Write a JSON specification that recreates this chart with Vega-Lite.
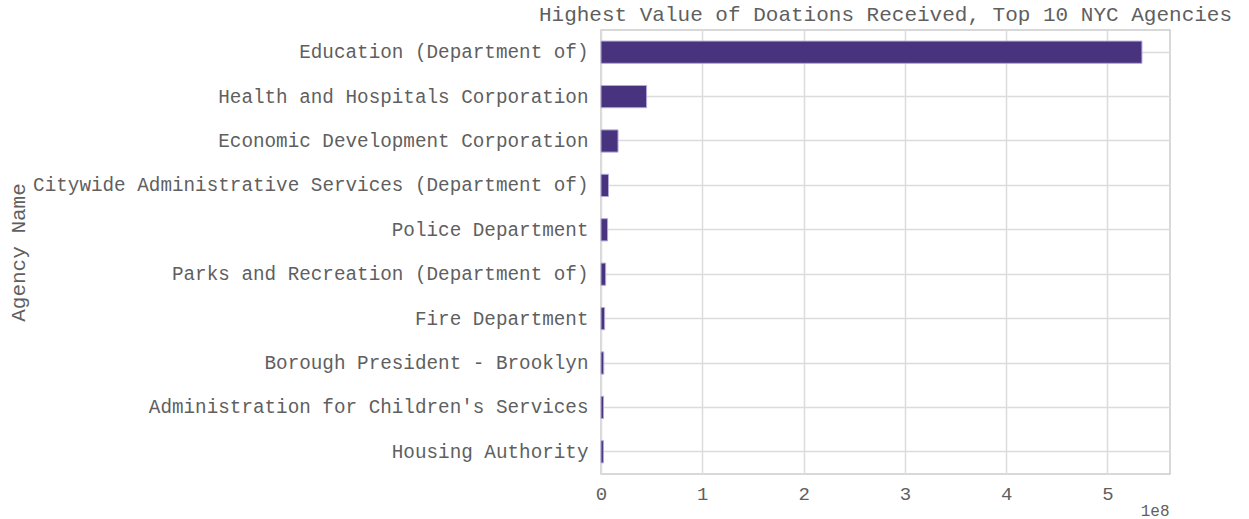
{
  "$schema": "https://vega.github.io/schema/vega-lite/v6.json",
  "width": 569,
  "height": 444,
  "autosize": {"type": "none"},
  "padding": {"left": 601, "top": 30, "right": 79, "bottom": 45},
  "background": "white",
  "title": {
    "text": "Highest Value of Doations Received, Top 10 NYC Agencies",
    "font": "Liberation Mono",
    "fontSize": 21,
    "fontWeight": "normal",
    "color": "#5f5f5f",
    "anchor": "middle",
    "offset": 5
  },
  "data": {
    "values": [
      {"agency": "Education (Department of)", "value": 534000000},
      {"agency": "Health and Hospitals Corporation", "value": 45000000},
      {"agency": "Economic Development Corporation", "value": 16800000},
      {"agency": "Citywide Administrative Services (Department of)", "value": 7400000},
      {"agency": "Police Department", "value": 6500000},
      {"agency": "Parks and Recreation (Department of)", "value": 4600000},
      {"agency": "Fire Department", "value": 3600000},
      {"agency": "Borough President - Brooklyn", "value": 2700000},
      {"agency": "Administration for Children's Services", "value": 2500000},
      {"agency": "Housing Authority", "value": 2400000}
    ]
  },
  "mark": {"type": "bar", "color": "#47337e", "stroke": "#b3a7d8", "strokeWidth": 1},
  "encoding": {
    "y": {
      "field": "agency",
      "type": "nominal",
      "sort": null,
      "scale": {"paddingInner": 0.5, "paddingOuter": 0.25},
      "axis": {
        "title": "Agency Name",
        "ticks": false,
        "domain": false,
        "bandPosition": 0.5,
        "grid": true,
        "gridColor": "#dcdcdc",
        "gridWidth": 1.5,
        "labelFont": "Liberation Mono",
        "labelFontSize": 19.3,
        "labelColor": "#5f5f5f",
        "labelPadding": 13,
        "labelLimit": 700,
        "titleFont": "Liberation Mono",
        "titleFontSize": 21,
        "titleFontWeight": "normal",
        "titleColor": "#5f5f5f",
        "titleX": -583,
        "titleBaseline": "middle",
        "titleAlign": "center"
      }
    },
    "x": {
      "field": "value",
      "type": "quantitative",
      "scale": {"domain": [0, 561700000], "nice": false, "zero": true},
      "axis": {
        "values": [0, 100000000, 200000000, 300000000, 400000000, 500000000],
        "labelExpr": "format(datum.value / 100000000, 'd')",
        "labelFlush": false,
        "title": "1e8",
        "ticks": false,
        "domain": false,
        "grid": true,
        "gridColor": "#dcdcdc",
        "gridWidth": 1.5,
        "labelFont": "Liberation Mono",
        "labelFontSize": 19,
        "labelColor": "#5f5f5f",
        "labelPadding": 10,
        "titleFont": "Liberation Mono",
        "titleFontSize": 16,
        "titleFontWeight": "normal",
        "titleColor": "#5f5f5f",
        "titleAnchor": "end",
        "titleAlign": "right",
        "titleBaseline": "alphabetic",
        "titleX": 568,
        "titleY": 41
      }
    }
  },
  "config": {
    "view": {"stroke": "#cccccc", "strokeWidth": 1.5}
  }
}
